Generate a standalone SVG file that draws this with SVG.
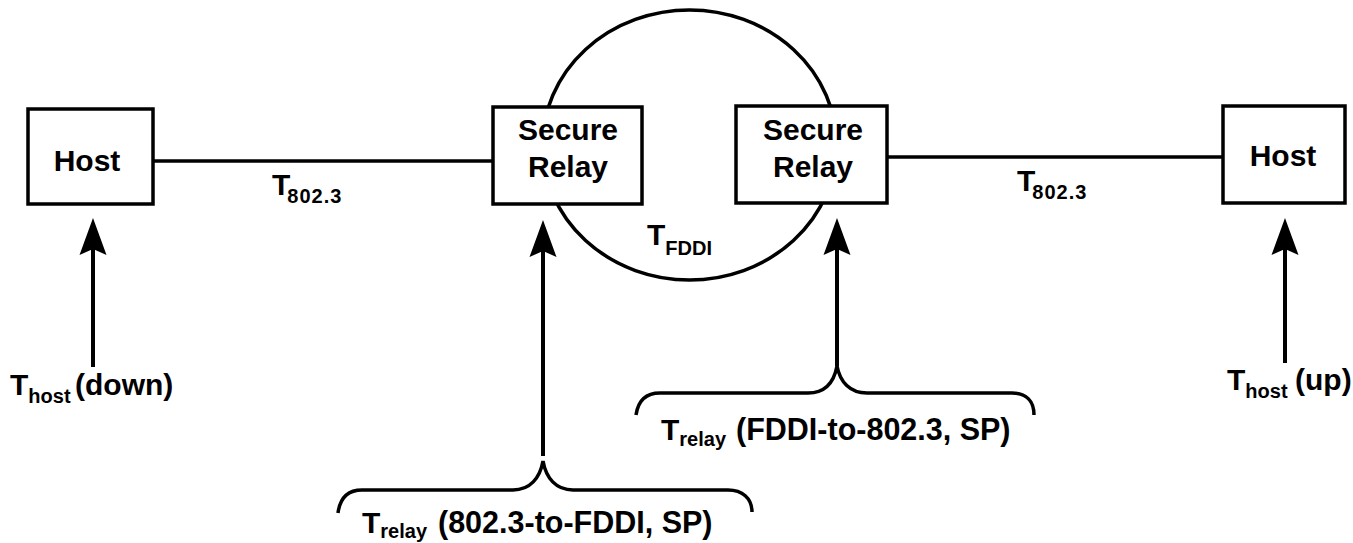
<svg xmlns="http://www.w3.org/2000/svg" width="1353" height="543" viewBox="0 0 1353 543">
  <style>
    .box { fill: #fff; stroke: #000; stroke-width: 3.5; }
    .wire { fill: none; stroke: #000; stroke-width: 3.5; }
    .shaft { fill: none; stroke: #000; stroke-width: 4; }
    .head { fill: #000; stroke: none; }
    .lbl { font-family: "Liberation Sans", Arial, Helvetica, sans-serif; font-weight: bold; font-size: 30px; fill: #000; }
    .sub { font-size: 20px; }
  </style>
  <defs>
    <!-- upward arrowhead, tip at origin -->
    <path id="ahead" class="head" d="M0,0 L13.5,37 L0,31 L-13.5,37 Z"/>
  </defs>
  <rect width="1353" height="543" fill="#fff"/>

  <!-- FDDI ring, drawn first so the relay boxes sit on top of it -->
  <g id="ring">
    <ellipse class="wire" cx="689.5" cy="145" rx="147" ry="135"/>
    <text class="lbl" x="647" y="245">T<tspan class="sub" font-size="19" dy="10">FDDI</tspan></text>
  </g>

  <!-- connectors -->
  <g id="connectors">
    <line class="wire" x1="152" y1="161" x2="494" y2="161"/>
    <line class="wire" x1="886" y1="157" x2="1224" y2="157"/>
    <text class="lbl" x="272" y="195">T<tspan class="sub" font-size="21" dx="-3" dy="8" letter-spacing="1">802.3</tspan></text>
    <text class="lbl" x="1017" y="191">T<tspan class="sub" font-size="21" dx="-3" dy="8" letter-spacing="1">802.3</tspan></text>

    <!-- arrows into each node -->
    <line class="shaft" x1="93" y1="248" x2="93" y2="367"/>
    <use href="#ahead" x="93" y="218"/>
    <line class="shaft" x1="543" y1="250" x2="543" y2="456"/>
    <use href="#ahead" x="543" y="220"/>
    <line class="shaft" x1="837" y1="248" x2="837" y2="366"/>
    <use href="#ahead" x="837" y="218"/>
    <line class="shaft" x1="1285" y1="248" x2="1285" y2="363"/>
    <use href="#ahead" x="1285" y="218"/>

    <!-- braces -->
    <path class="wire" d="M338,513 C340,498 348,490 362,490 L513,490 C530,490 540,478 543,461 C546,478 556,490 573,490 L728,490 C742,490 752,498 752,512"/>
    <path class="wire" d="M636,415 C638,401 646,393 660,393 L808,393 C825,393 834,382 837,366 C840,382 850,393 867,393 L1012,393 C1026,393 1034,401 1034,415"/>
  </g>

  <g id="host-left">
    <rect class="box" x="28" y="109" width="125" height="95"/>
    <text class="lbl" x="87" y="171" text-anchor="middle">Host</text>
  </g>

  <g id="relay-left">
    <rect class="box" x="493" y="107" width="149" height="97"/>
    <text class="lbl" x="568" y="140" text-anchor="middle">Secure</text>
    <text class="lbl" x="568" y="177" text-anchor="middle">Relay</text>
  </g>

  <g id="relay-right">
    <rect class="box" x="736" y="106" width="151" height="97"/>
    <text class="lbl" x="813" y="140" text-anchor="middle">Secure</text>
    <text class="lbl" x="813" y="177" text-anchor="middle">Relay</text>
  </g>

  <g id="host-right">
    <rect class="box" x="1223" y="106" width="122" height="97"/>
    <text class="lbl" x="1283" y="166" text-anchor="middle">Host</text>
  </g>

  <!-- timing labels -->
  <g id="labels">
    <text class="lbl" x="10" y="395">T<tspan class="sub" dy="8">host</tspan><tspan x="75" y="395">(down)</tspan></text>
    <text class="lbl" x="1227" y="390">T<tspan class="sub" dy="8">host</tspan><tspan x="1295" y="390">(up)</tspan></text>
    <text class="lbl" x="362" y="533">T<tspan class="sub" dy="5">relay</tspan><tspan x="438" y="533" font-size="30.5">(802.3-to-FDDI, SP)</tspan></text>
    <text class="lbl" x="661" y="440">T<tspan class="sub" dy="6">relay</tspan><tspan x="736" y="440" font-size="30.5">(FDDI-to-802.3, SP)</tspan></text>
  </g>
</svg>
